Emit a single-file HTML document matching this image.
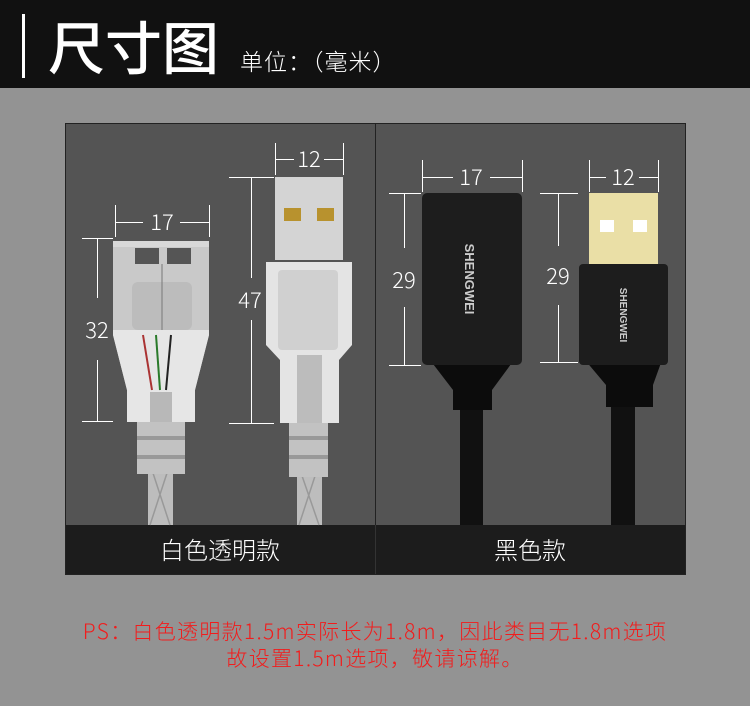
<!DOCTYPE html>
<html><head><meta charset="utf-8"><style>
html,body{margin:0;padding:0}
body{width:750px;height:706px;background:#939393;position:relative;overflow:hidden;font-family:"Liberation Sans","Noto Sans CJK SC",sans-serif}
.hd{position:absolute;left:0;top:0;width:750px;height:88px;background:#111}
.bar{position:absolute;left:22px;top:14px;width:3px;height:64px;background:#fff}
.t1{position:absolute;left:48px;top:10px;font-size:57px;color:#fff;line-height:70px;font-family:"Noto Sans CJK SC",sans-serif;font-weight:500}
.t2{position:absolute;left:240px;top:45px;font-size:23px;color:#fff;line-height:30px;font-family:"Noto Sans CJK SC",sans-serif;font-weight:300;letter-spacing:1px}
.ps{position:absolute;left:0;width:750px;text-align:center;color:#f21c1c;font-size:21px;line-height:26px;font-family:"Noto Sans CJK SC",sans-serif;font-weight:300;letter-spacing:1.3px}
svg{position:absolute;left:0;top:0}
</style></head><body>
<div class="hd"></div><div class="bar"></div>
<div class="t1">尺寸图</div><div class="t2">单位：（毫米）</div>
<svg width="750" height="706" viewBox="0 0 750 706">
<rect x="65.5" y="123.5" width="310" height="451" fill="#545454" stroke="#222"/>
<rect x="375.5" y="123.5" width="310" height="451" fill="#545454" stroke="#222"/>
<rect x="66" y="525" width="619" height="49" fill="#1c1c1c"/>
<line x1="375.5" y1="525" x2="375.5" y2="574" stroke="#333"/>
<g font-family="Noto Sans CJK SC,sans-serif" fill="#fff" font-size="24" font-weight="300" text-anchor="middle">
<text x="220" y="559">白色透明款</text><text x="530" y="559">黑色款</text></g>
<!-- white female -->
<rect x="148" y="470" width="25" height="55" fill="#bdbdbd"/>
<path d="M152 470 L170 525 M168 470 L150 525" stroke="#999" stroke-width="1.5"/>
<rect x="137" y="422" width="48" height="52" fill="#c2c2c2"/>
<rect x="137" y="436" width="48" height="4" fill="#999"/><rect x="137" y="455" width="48" height="4" fill="#999"/>
<path d="M113 241 H209 V335 L195 390 V422 H127 V390 L113 335 Z" fill="#d6d6d6"/>
<path d="M113 330 H209 V335 L195 390 V422 H127 V390 L113 335 Z" fill="#e6e6e6"/>
<rect x="113" y="241" width="96" height="89" fill="#c9c9c9"/>
<rect x="113" y="241" width="96" height="6" fill="#d8d8d8"/>
<rect x="132" y="282" width="60" height="48" rx="6" fill="#bcbcbc"/>
<rect x="135" y="248" width="24" height="16" fill="#555"/><rect x="167" y="248" width="24" height="16" fill="#555"/>
<path d="M162 264 V330" stroke="#777" stroke-width="1"/>
<path d="M143 335 L152 390" stroke="#a33" stroke-width="2"/>
<path d="M156 335 L160 390" stroke="#2a7a2a" stroke-width="2"/><path d="M171 335 L166 390" stroke="#222" stroke-width="2"/>
<rect x="150" y="392" width="22" height="30" fill="#b8b8b8"/>
<!-- white male -->
<rect x="297" y="470" width="25" height="55" fill="#bdbdbd"/>
<path d="M300 470 L319 525 M317 470 L299 525" stroke="#999" stroke-width="1.5"/>
<rect x="289" y="422" width="39" height="55" fill="#c2c2c2"/>
<rect x="289" y="436" width="39" height="4" fill="#999"/><rect x="289" y="455" width="39" height="4" fill="#999"/>
<rect x="275" y="177" width="68" height="83" fill="#d4d4d4"/>
<rect x="284" y="208" width="17" height="13" fill="#b8922e"/><rect x="317" y="208" width="17" height="13" fill="#b8922e"/>
<path d="M266 262 H352 V345 L339 360 V423 H280 V360 L266 345 Z" fill="#e4e4e4"/>
<rect x="278" y="270" width="60" height="80" rx="4" fill="#d0d0d0"/>
<rect x="297" y="355" width="25" height="68" fill="#bcbcbc"/>
<!-- black female -->
<rect x="460" y="400" width="23" height="125" fill="#111"/>
<path d="M430 360 H514 L492 390 V410 H453 V390 Z" fill="#0c0c0c"/>
<rect x="422" y="193" width="100" height="172" rx="5" fill="#1d1d1d"/>
<text transform="translate(465,279) rotate(90)" font-family="Liberation Sans,sans-serif" font-size="13" fill="#ccc" text-anchor="middle" font-weight="bold">SHENGWEI</text>
<!-- black male -->
<rect x="611" y="400" width="24" height="125" fill="#111"/>
<path d="M585 360 H662 L653 385 V407 H606 V385 Z" fill="#0c0c0c"/>
<rect x="589" y="193" width="69" height="72" fill="#eadfa6"/>
<rect x="600" y="220" width="14" height="12" fill="#fff"/><rect x="633" y="220" width="14" height="12" fill="#fff"/>
<rect x="579" y="264" width="89" height="101" rx="4" fill="#1d1d1d"/>
<text transform="translate(620,315) rotate(90)" font-family="Liberation Sans,sans-serif" font-size="10" fill="#ccc" text-anchor="middle" font-weight="bold">SHENGWEI</text>
<!-- dims -->
<g stroke="#fff" stroke-width="1" fill="none">
<path d="M115.5 205 V237 M209.5 205 V237 M116 222.5 H143 M180 222.5 H209"/>
<path d="M82 238.5 H113 M82 421.5 H113 M97.5 239 V298 M97.5 360 V421"/>
<path d="M275.5 143 V175 M343.5 143 V175 M276 159.5 H294 M324 159.5 H343"/>
<path d="M229 177.5 H274 M229 423.5 H274 M251.5 178 V278 M251.5 320 V423"/>
<path d="M422.5 160 V192 M522.5 160 V192 M423 177.5 H453 M490 177.5 H522"/>
<path d="M389 193.5 H421 M389 365.5 H421 M404.5 194 V248 M404.5 307 V365"/>
<path d="M589.5 160 V192 M658.5 160 V192 M590 177.5 H606 M639 177.5 H658"/>
<path d="M540 193.5 H578 M540 362.5 H578 M558.5 194 V246 M558.5 305 V362"/>
</g>
<g font-family="Noto Sans CJK SC,sans-serif" fill="#fff" font-size="22" font-weight="300" text-anchor="middle">
<text x="162" y="230">17</text><text x="97" y="338">32</text>
<text x="309" y="167">12</text><text x="250" y="308">47</text>
<text x="471" y="185">17</text><text x="404" y="288">29</text>
<text x="623" y="185">12</text><text x="558" y="284">29</text>
</g>
</svg>
<div class="ps" style="top:618px">PS：白色透明款1.5m实际长为1.8m，因此类目无1.8m选项</div>
<div class="ps" style="top:645px">故设置1.5m选项，敬请谅解。</div>
</body></html>
